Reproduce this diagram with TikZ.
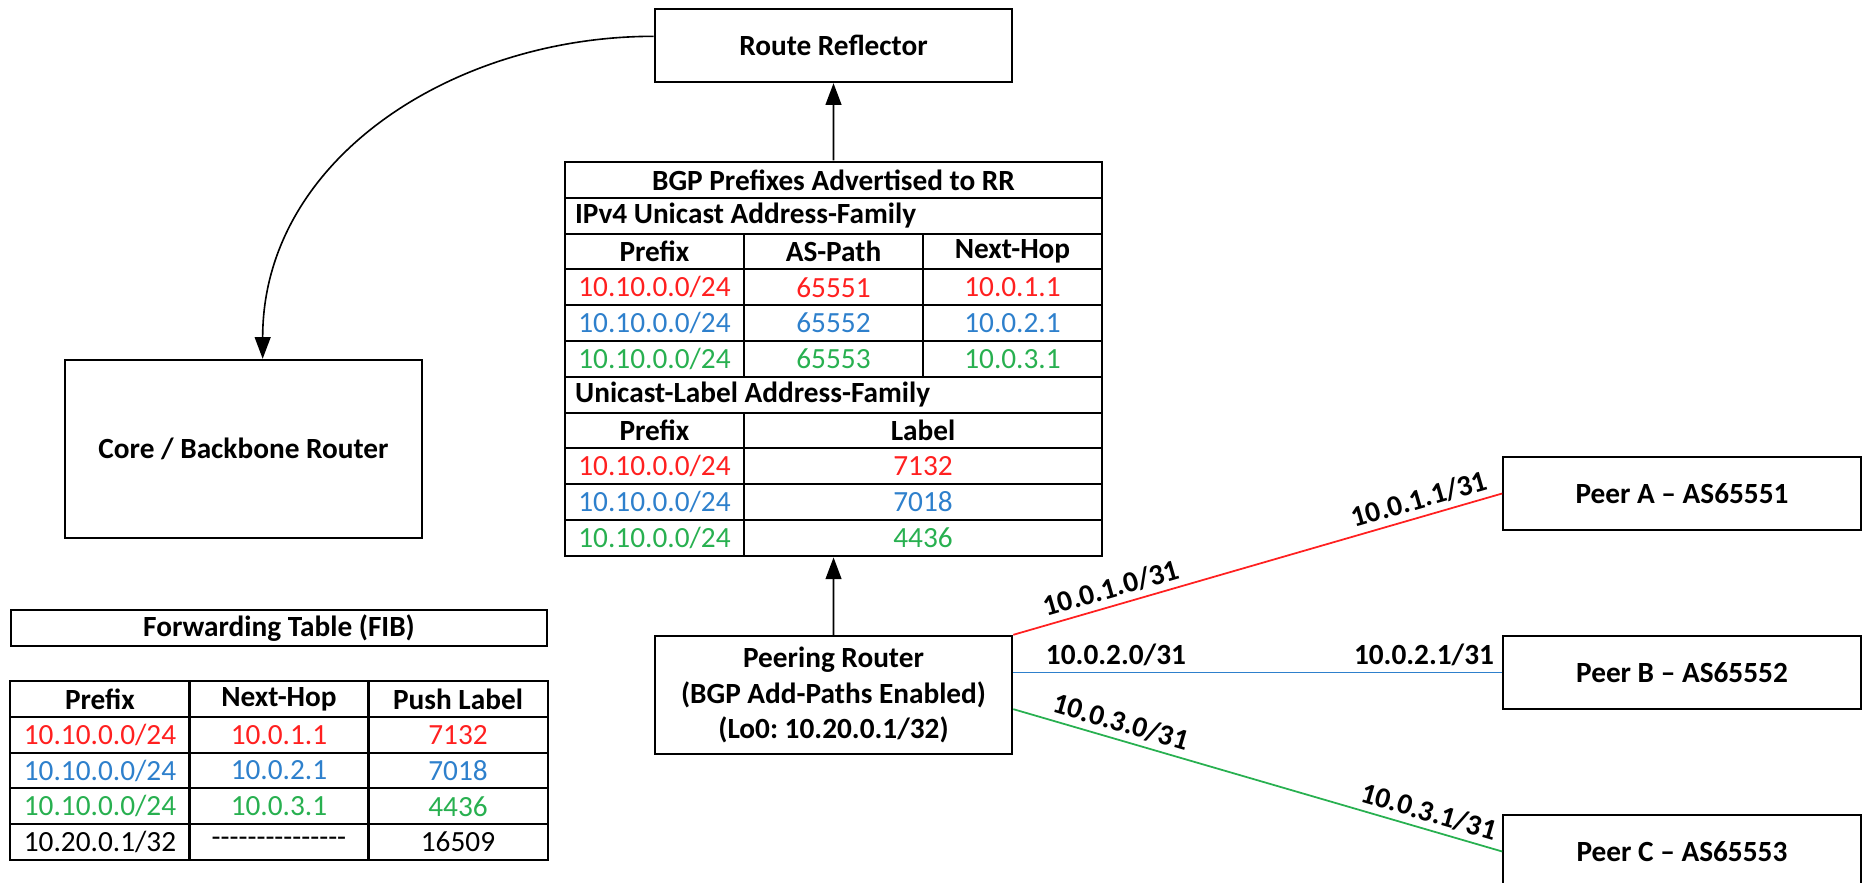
\documentclass[tikz,border=0pt]{standalone}
\usepackage{fontspec}
\setmainfont{Carlito}
\usetikzlibrary{arrows.meta,fit}

\definecolor{pathred}{RGB}{255,32,32}
\definecolor{pathblue}{RGB}{46,128,204}
\definecolor{pathgreen}{RGB}{40,176,80}

% a row of hyphens with no dash ligatures
\newcommand{\nohop}{\foreach \k in {1,...,15}{-\kern0pt}}

\begin{document}
\frenchspacing
\begin{tikzpicture}[x=0.12mm, y=-0.12mm,
  router/.style={draw, line width=0.7pt, minimum width=42.9mm, minimum height=8.8mm, align=center, font=\bfseries},
  cell/.style={draw, line width=0.7pt, minimum width=21.5mm, minimum height=4.3mm, inner sep=0pt},
  head/.style={cell, font=\bfseries},
  wide/.style={head, minimum width=64.4mm},
  sect/.style={head, text width=62mm, inner xsep=1.2mm, align=flush left},
  link/.style={line width=0.6pt},
  ip/.style={font=\bfseries, text=black, sloped, above, inner sep=2pt},
  push/.style={-{Triangle[length=2.6mm,width=1.9mm]}, line width=0.55pt}
]
\useasboundingbox (0,0) rectangle (1862,883);
\clip (0,0) rectangle (1862,883);

\node[router] (rr) at (833.5,45.5) {Route Reflector};
\node[router, minimum height=21.4mm] (core) at (243.5,449) {Core / Backbone Router};
\node[router, minimum height=14.2mm] (peering) at (833.5,695) {Peering Router\\(BGP Add-Paths Enabled)\\(Lo0: 10.20.0.1/32)};
\node[router] (peerA) at (1682,493.5) {Peer A – AS65551};
\node[router] (peerB) at (1682,672.5) {Peer B – AS65552};
\node[router] (peerC) at (1682,851.5) {Peer C – AS65553};

% prefixes sent to the RR
\node[wide] (bgptitle) at (833.5,179.9) {BGP Prefixes Advertised to RR};
\node[sect] (ipv4af) at (833.5,215.7) {IPv4 Unicast Address-Family};
\node[head] (ipv4pfx) at (654.5,251.5) {Prefix};
\node[head] (ipv4as) at (833.5,251.5) {AS-Path};
\node[head] (ipv4nh) at (1012.5,251.5) {Next-Hop};
\foreach \col/\as/\nh [count=\i] in {pathred/65551/10.0.1.1, pathblue/65552/10.0.2.1, pathgreen/65553/10.0.3.1} {
  \node[cell, text=\col] (ipv4pfx\i) at (654.5,{251.5+35.8*\i}) {10.10.0.0/24};
  \node[cell, text=\col] (ipv4as\i) at (833.5,{251.5+35.8*\i}) {\as};
  \node[cell, text=\col] (ipv4nh\i) at (1012.5,{251.5+35.8*\i}) {\nh};
}
\node[sect] (lblaf) at (833.5,394.7) {Unicast-Label Address-Family};
\node[head] (lblpfx) at (654.5,430.5) {Prefix};
\node[head, minimum width=43mm] (lblval) at (923,430.5) {Label};
\foreach \col/\lab [count=\i] in {pathred/7132, pathblue/7018, pathgreen/4436} {
  \node[cell, text=\col] (lblpfx\i) at (654.5,{430.5+35.8*\i}) {10.10.0.0/24};
  \node[cell, text=\col, minimum width=43mm] (lblval\i) at (923,{430.5+35.8*\i}) {\lab};
}
\node[fit=(bgptitle)(lblpfx3)(lblval3), inner sep=0pt] (bgp) {};

% FIB
\node[wide] (fibtitle) at (279,628) {Forwarding Table (FIB)};
\node[head] (fibpfx) at (100,698.9) {Prefix};
\node[head] (fibnh) at (279,698.9) {Next-Hop};
\node[head] (fiblab) at (458,698.9) {Push Label};
\foreach \col/\nh/\lab [count=\i] in {pathred/10.0.1.1/7132, pathblue/10.0.2.1/7018, pathgreen/10.0.3.1/4436} {
  \node[cell, text=\col] (fibpfx\i) at (100,{698.9+35.8*\i}) {10.10.0.0/24};
  \node[cell, text=\col] (fibnh\i) at (279,{698.9+35.8*\i}) {\nh};
  \node[cell, text=\col] (fiblab\i) at (458,{698.9+35.8*\i}) {\lab};
}
\node[cell] (fibpfx4) at (100,842.1) {10.20.0.1/32};
\node[cell] (fibnh4) at (279,842.1) {\nohop};
\node[cell] (fiblab4) at (458,842.1) {16509};

\draw[push] (bgp.north) -- (rr.south);
\draw[push] (peering.north) -- (bgp.south);
\draw[push] ([yshift=1.1mm]rr.west) .. controls +(-200,0) and +(0,-200) .. ([xshift=2.3mm]core.north);

\draw[link, pathred] (peering.north east) -- (peerA.west)
  node[ip, pos=0.21] {10.0.1.0/31} node[ip, pos=0.84] {10.0.1.1/31};
\draw[link, pathblue] (peering.east |- peerB.west) -- (peerB.west)
  node[ip, pos=0.21] {10.0.2.0/31} node[ip, pos=0.84] {10.0.2.1/31};
\draw[link, pathgreen] ([yshift=-1.7mm]peering.east) -- (peerC.west)
  node[ip, pos=0.21] {10.0.3.0/31} node[ip, pos=0.84] {10.0.3.1/31};
\end{tikzpicture}
\end{document}
